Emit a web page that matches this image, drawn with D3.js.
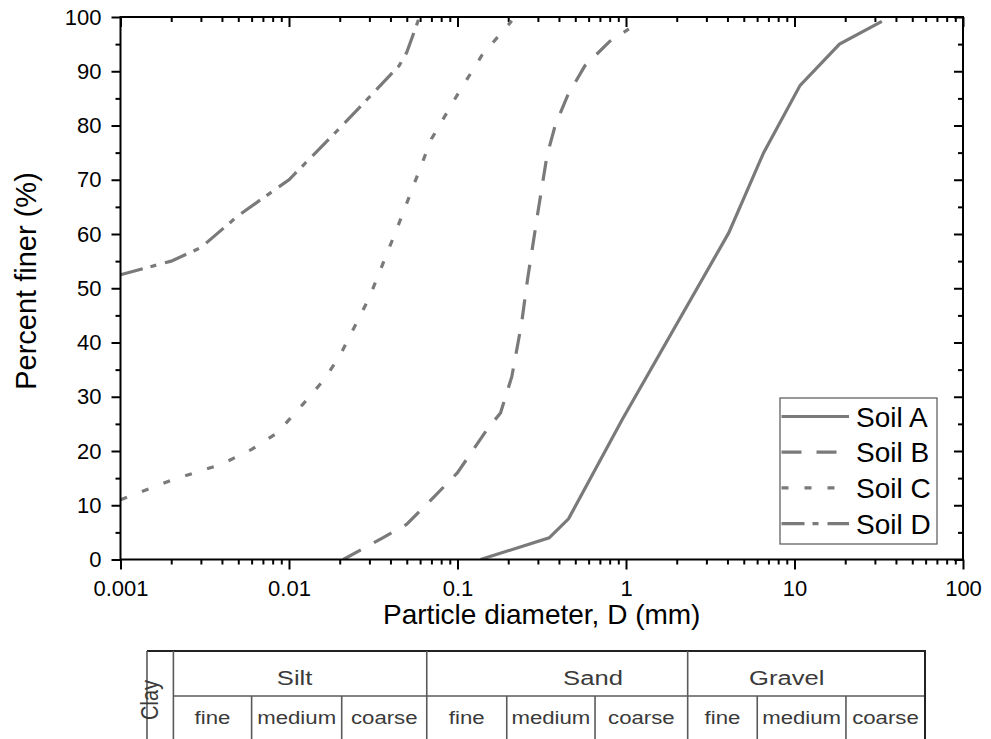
<!DOCTYPE html>
<html>
<head>
<meta charset="utf-8">
<script src="https://cdn.jsdelivr.net/npm/d3@7"></script>
<style>
  body { margin: 0; background: #fff; }
  svg { display: block; font-family: "Liberation Sans", Arial, sans-serif; }
</style>
</head>
<body>
<div id="chart"></div>
<script>
// grain size distribution
var seriesNames = ["Soil A", "Soil B", "Soil C", "Soil D"];

var soilA_d = [0.137, 0.35, 0.456, 0.95, 4.07, 6.56, 10.8, 18.5, 33];
var soilA_p = [0, 4, 7.5, 25.8, 60.2, 75, 87.4, 95, 99.2];

var soilB_d = [0.021, 0.036, 0.05, 0.075, 0.1, 0.15, 0.18, 0.21, 0.24, 0.26, 0.3, 0.34, 0.38, 0.45, 0.57, 0.8, 1.04];
var soilB_p = [0, 4, 6.5, 12, 16, 24, 27, 33.7, 43.5, 51.5, 64, 74.5, 80, 85.5, 91, 95.5, 97.8];

var soilC_d = [0.001, 0.002, 0.004, 0.006, 0.0085, 0.012, 0.016, 0.02, 0.03, 0.045, 0.07, 0.1, 0.14, 0.21];
var soilC_p = [11, 14.6, 17.6, 20.3, 23.3, 28.5, 33, 37.5, 48.3, 62, 77.5, 85.7, 93, 99.3];

var soilD_d = [0.001, 0.002, 0.003, 0.005, 0.01, 0.02, 0.045, 0.05, 0.0595];
var soilD_p = [52.5, 55, 57.5, 63.4, 70, 79.5, 91, 93.5, 100];

var xTicks = [0.001, 0.01, 0.1, 1, 10, 100];
var xTickLabels = ["0.001", "0.01", "0.1", "1", "10", "100"];
var yTicks = [0, 10, 20, 30, 40, 50, 60, 70, 80, 90, 100];

// soil classification strip under the chart (cell edges in mm, as drawn)
var tableEdges = [0.001436, 0.00206, 0.006, 0.02055, 0.0657, 0.196, 0.655, 2.323, 6.01, 20.2, 59.5];
var groupNames = ["Silt", "Sand", "Gravel"];
var groupLabelAt = [0.0108, 0.637, 8.99];
var subNames = ["fine", "medium", "coarse", "fine", "medium", "coarse", "fine", "medium", "coarse"];

var svgWidth = 991;
var svgHeight = 739;
var margin = { top: 17, right: 28, bottom: 179.5, left: 120.5 };
var width = svgWidth - margin.left - margin.right;
var height = svgHeight - margin.top - margin.bottom;

var lineColor = "#7a7a7a";
var dashes = ["none", "20,15", "7,16", "23,8,6,9"];

var svg = d3.select("#chart").append("svg")
  .attr("width", svgWidth)
  .attr("height", svgHeight);

var chartGroup = svg.append("g")
  .attr("transform", `translate(${margin.left}, ${margin.top})`);

var x = d3.scaleLog().domain([0.001, 100]).range([0, width]);
var y = d3.scaleLinear().domain([0, 100]).range([height, 0]);

// minor ticks
var xMinor = [];
[0.001, 0.01, 0.1, 1, 10].forEach(function(dec) {
  for (var k = 2; k <= 9; k++) xMinor.push(dec * k);
});
var yMinor = [5, 15, 25, 35, 45, 55, 65, 75, 85, 95];

chartGroup.append("defs").append("clipPath").attr("id", "plotClip")
  .append("rect").attr("x", -6).attr("y", 0).attr("width", width + 6).attr("height", height);

// Axes
function styleAxis(g) {
  g.select(".domain").remove();
  g.selectAll(".tick line").attr("stroke", "#000").attr("stroke-width", 2);
  g.selectAll(".tick text").attr("fill", "#000").style("font-size", "22px")
    .style("font-family", "'Liberation Sans', Arial, sans-serif");
}

chartGroup.append("g")
  .attr("transform", `translate(0, ${height})`)
  .call(d3.axisBottom(x).tickValues(xTicks).tickSize(10).tickPadding(11)
    .tickFormat(function(d, i) { return xTickLabels[i]; }))
  .call(styleAxis);
chartGroup.append("g")
  .attr("transform", `translate(0, ${height})`)
  .call(d3.axisBottom(x).tickValues(xMinor).tickSize(5).tickFormat(""))
  .call(styleAxis);

// top (inward)
chartGroup.append("g")
  .call(d3.axisBottom(x).tickValues(xTicks).tickSize(10).tickFormat(""))
  .call(styleAxis);
chartGroup.append("g")
  .call(d3.axisBottom(x).tickValues(xMinor).tickSize(5).tickFormat(""))
  .call(styleAxis);

chartGroup.append("g")
  .call(d3.axisLeft(y).tickValues(yTicks).tickSize(9).tickPadding(10))
  .call(styleAxis);
chartGroup.append("g")
  .call(d3.axisLeft(y).tickValues(yMinor).tickSize(5).tickFormat(""))
  .call(styleAxis);

// right (inward)
chartGroup.append("g")
  .attr("transform", `translate(${width}, 0)`)
  .call(d3.axisLeft(y).tickValues(yTicks).tickSize(9).tickFormat(""))
  .call(styleAxis);
chartGroup.append("g")
  .attr("transform", `translate(${width}, 0)`)
  .call(d3.axisLeft(y).tickValues(yMinor).tickSize(5).tickFormat(""))
  .call(styleAxis);

// Curves
var allSeries = [
  soilA_d.map(function(d, i) { return [d, soilA_p[i]]; }),
  soilB_d.map(function(d, i) { return [d, soilB_p[i]]; }),
  soilC_d.map(function(d, i) { return [d, soilC_p[i]]; }),
  soilD_d.map(function(d, i) { return [d, soilD_p[i]]; })
];

var line = d3.line()
  .x(function(d) { return x(d[0]); })
  .y(function(d) { return y(d[1]); });

chartGroup.append("g").attr("clip-path", "url(#plotClip)")
  .selectAll("path")
  .data(allSeries)
  .enter()
  .append("path")
  .attr("d", line)
  .attr("fill", "none")
  .attr("stroke", lineColor)
  .attr("stroke-width", 3.2)
  .attr("stroke-dasharray", function(d, i) { return dashes[i]; });

// frame
chartGroup.append("rect")
  .attr("width", width).attr("height", height)
  .attr("fill", "none").attr("stroke", "#000").attr("stroke-width", 2);

// Legend
var legend = chartGroup.append("g").attr("transform", "translate(659.5, 381)");
legend.append("rect")
  .attr("width", 157).attr("height", 146)
  .attr("fill", "#fff").attr("stroke", "#555").attr("stroke-width", 1.2);

var legendRow = legend.selectAll(".row")
  .data(seriesNames)
  .enter()
  .append("g")
  .attr("transform", function(d, i) { return `translate(0, ${18.5 + i * 35.7})`; });

legendRow.append("line")
  .attr("x1", 1.5).attr("x2", 69)
  .attr("stroke", lineColor).attr("stroke-width", 3.2)
  .attr("stroke-dasharray", function(d, i) { return dashes[i]; });

legendRow.append("text")
  .attr("x", 76).attr("dy", "0.36em")
  .style("font-size", "28px")
  .text(function(d) { return d; });

// Axis titles
chartGroup.append("text")
  .attr("x", width / 2).attr("y", height + 64)
  .attr("text-anchor", "middle")
  .style("font-size", "28px")
  .text("Particle diameter, D (mm)");

chartGroup.append("text")
  .attr("transform", "rotate(-90)")
  .attr("x", -264).attr("y", -85)
  .attr("text-anchor", "middle")
  .style("font-size", "29px")
  .text("Percent finer (%)");

// Classification table
var tTop = 651, tMid = 696, tBot = 745;
var table = svg.append("g");
var ex = tableEdges.map(function(d) { return margin.left + x(d); });

table.append("line")
  .attr("x1", ex[0]).attr("x2", ex[10]).attr("y1", tTop).attr("y2", tTop)
  .attr("stroke", "#222").attr("stroke-width", 2);
table.append("line")
  .attr("x1", ex[1]).attr("x2", ex[10]).attr("y1", tMid).attr("y2", tMid)
  .attr("stroke", "#5a5a5a").attr("stroke-width", 1.6);

var fullLines = [0, 1, 4, 7];
table.selectAll(".vfull")
  .data(fullLines)
  .enter()
  .append("line")
  .attr("x1", function(i) { return ex[i]; }).attr("x2", function(i) { return ex[i]; })
  .attr("y1", tTop).attr("y2", tBot)
  .attr("stroke", "#5a5a5a").attr("stroke-width", 1.6);
table.append("line")
  .attr("x1", ex[10]).attr("x2", ex[10]).attr("y1", tTop - 1).attr("y2", tBot)
  .attr("stroke", "#222").attr("stroke-width", 2);

var subLines = [2, 3, 5, 6, 8, 9];
table.selectAll(".vsub")
  .data(subLines)
  .enter()
  .append("line")
  .attr("x1", function(i) { return ex[i]; }).attr("x2", function(i) { return ex[i]; })
  .attr("y1", tMid).attr("y2", tBot)
  .attr("stroke", "#5a5a5a").attr("stroke-width", 1.6);

table.selectAll(".grp")
  .data(groupNames)
  .enter()
  .append("text")
  .attr("transform", function(d, i) { return `translate(${margin.left + x(groupLabelAt[i])}, 685) scale(1.28, 1)`; })
  .attr("text-anchor", "middle")
  .attr("fill", "#3a3a3a")
  .style("font-size", "20px")
  .text(function(d) { return d; });

table.selectAll(".sub")
  .data(subNames)
  .enter()
  .append("text")
  .attr("transform", function(d, i) { return `translate(${(ex[i + 1] + ex[i + 2]) / 2}, 724) scale(1.2, 1)`; })
  .attr("text-anchor", "middle")
  .attr("fill", "#3a3a3a")
  .style("font-size", "18.5px")
  .text(function(d) { return d; });

table.append("text")
  .attr("transform", `translate(158, 700) rotate(-90) scale(1, 1.15)`)
  .attr("text-anchor", "middle")
  .attr("fill", "#3a3a3a")
  .style("font-size", "20px")
  .text("Clay");
</script>
</body>
</html>
